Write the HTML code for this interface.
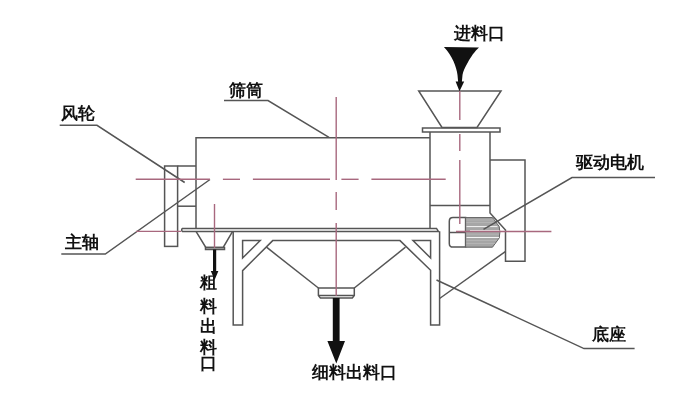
<!DOCTYPE html>
<html><head><meta charset="utf-8">
<style>
html,body{margin:0;padding:0;background:#fff;width:700px;height:401px;overflow:hidden}
svg{position:absolute;left:0;top:0;will-change:transform}
.t{font-family:"Liberation Sans",sans-serif;font-size:17px;fill:#111;font-weight:bold}
</style></head><body>
<svg width="700" height="401" viewBox="0 0 700 401">
<g fill="none" stroke="#555" stroke-width="1.5">
<!-- drum -->
<polyline points="196,228.5 196,137.8 430,137.8"/>
<!-- left fan flange -->
<rect x="164.6" y="166" width="13" height="80.4"/>
<line x1="177.6" y1="166" x2="196" y2="166"/>
<line x1="177.6" y1="206.2" x2="196" y2="206.2"/>
<!-- feed hopper -->
<polygon points="418.7,91 501,91 477,127.4 442,127.4"/>
<rect x="422.5" y="128" width="77.5" height="4"/>
<!-- housing -->
<line x1="430" y1="132" x2="430" y2="228.3"/>
<polyline points="490,132 490,213 505.5,230 505.5,261.2 525,261.2 525,160 490,160"/>
<line x1="430" y1="205.5" x2="490" y2="205.5"/>
<!-- top plate -->
<path d="M182.5,228.4 L436.5,228.4 L438.5,231.6 L182.5,231.6 Q180.8,230 182.5,228.4Z"/>
<!-- small hopper -->
<polyline points="196,231.4 205.8,247.5 223.2,247.5 232.6,231.4"/>
<rect x="205.5" y="247.5" width="19" height="2"/>
<!-- left leg & brace -->
<polyline points="233.2,231.4 233.2,325 242.6,325 242.6,270.6 272.7,240.6 400,240.6 430.6,270.3 430.6,325 439.6,325 439.6,231.2"/>
<polygon points="242.6,240.6 260.2,240.6 242.6,258"/>
<polygon points="413,240.6 430.6,240.6 430.6,258"/>
<!-- central hopper -->
<polyline points="266.5,247.2 318.4,288"/>
<polyline points="354.3,288 405.5,247.2"/>
<path d="M318.4,288 L354.3,288 L354.3,295.5 L352.3,298 L320.4,298 L318.4,295.5 Z"/>
<line x1="319" y1="295.5" x2="354" y2="295.5"/>
<!-- motor -->
<path d="M453,217.6 L465.6,217.6 L465.6,247.1 L453,247.1 Q449.3,247.1 449.3,243.4 L449.3,221.3 Q449.3,217.6 453,217.6Z"/>
<line x1="449.3" y1="232.5" x2="465.6" y2="232.5"/>
</g>
<!-- motor shaded part -->
<path d="M465.6,217.6 L492.5,217.6 L499.2,226.5 Q500.6,232.3 499.2,238 L492.5,247.2 L465.6,247.2 Z" fill="#a6a6a6" stroke="#606060" stroke-width="1"/>
<g stroke="#b8b8b8" stroke-width="0.8">
<line x1="466.5" y1="220" x2="494" y2="220"/>
<line x1="466.5" y1="222.5" x2="496" y2="222.5"/>
<line x1="466.5" y1="234.2" x2="499" y2="234.2"/>
<line x1="466.5" y1="240.5" x2="497" y2="240.5"/>
<line x1="466.5" y1="243.5" x2="495" y2="243.5"/>
</g>
<g stroke="#f4f4f4">
<line x1="466.5" y1="226.6" x2="497.5" y2="226.6" stroke-width="1"/>
<line x1="470" y1="230.8" x2="499.5" y2="230.8" stroke-width="1.4"/>
<line x1="466.5" y1="237.5" x2="499" y2="237.5" stroke-width="1"/>
</g>
<!-- leaders -->
<g fill="none" stroke="#555" stroke-width="1.5">
<polyline points="59.7,125.3 97,125.3 184.7,182.5"/>
<polyline points="61.3,254.1 105.3,254.1 210,179.5"/>
<polyline points="224,100.6 268,100.6 329,137.4"/>
<polyline points="655,177.6 572,177.6 483.5,229.3"/>
<polyline points="634.6,348.6 584,348.6 436.5,280"/>
<line x1="439.6" y1="298.5" x2="505.3" y2="251.6"/>
</g>
<!-- red centre lines -->
<g stroke="#a8687e" stroke-width="1.4" fill="none">
<line x1="135.7" y1="179.3" x2="210" y2="179.3"/>
<line x1="222.9" y1="179.3" x2="240" y2="179.3"/>
<line x1="252.9" y1="179.3" x2="330" y2="179.3"/>
<line x1="341.4" y1="179.3" x2="358.6" y2="179.3"/>
<line x1="371.4" y1="179.3" x2="445.7" y2="179.3"/>
<line x1="136" y1="231.4" x2="181" y2="231.4"/>
<line x1="336.2" y1="97" x2="336.2" y2="180"/>
<line x1="336.2" y1="192" x2="336.2" y2="210"/>
<line x1="336.2" y1="223" x2="336.2" y2="296"/>
<line x1="214.5" y1="204" x2="214.5" y2="248"/>
<line x1="459.8" y1="91" x2="459.8" y2="120"/>
<line x1="459.8" y1="134" x2="459.8" y2="151"/>
<line x1="459.8" y1="160" x2="459.8" y2="224"/>
<line x1="456" y1="231.5" x2="551.4" y2="231.5"/>
</g>
<!-- arrows -->
<path d="M443.9,46.9 L479,47.6 C475,51 470.5,57.5 467.8,62.5 C465,67.5 463,71.5 462.5,75 L461.9,81.6 L464.2,81.6 L459.5,91.2 L455.6,81.6 L458.1,81.6 L457.5,75 C457,71 455.6,66 453.6,61.5 C451,56 448,51 443.9,46.9Z" fill="#111"/>
<path d="M332.8,298 L339.6,298 L339.6,341 L345,341 L336.3,363.4 L327.4,341 L332.8,341Z" fill="#111"/>
<path d="M213,249.5 L216.2,249.5 L216.2,271 L218.4,271 L214.6,280 L210.8,271 L213,271Z" fill="#111"/>
<!-- text -->
<text class="t" x="60.5" y="119">风轮</text>
<text class="t" x="65" y="248">主轴</text>
<text class="t" x="229" y="96">筛筒</text>
<text class="t" x="454" y="39">进料口</text>
<text class="t" x="576" y="168">驱动电机</text>
<text class="t" x="592" y="340">底座</text>
<text class="t" x="312" y="378">细料出料口</text>
<text class="t" x="199.5" y="288">粗</text>
<text class="t" x="199.5" y="312">料</text>
<text class="t" x="199.5" y="332">出</text>
<text class="t" x="199.5" y="353">料</text>
<text class="t" x="199.5" y="369">口</text>
</svg>
</body></html>
